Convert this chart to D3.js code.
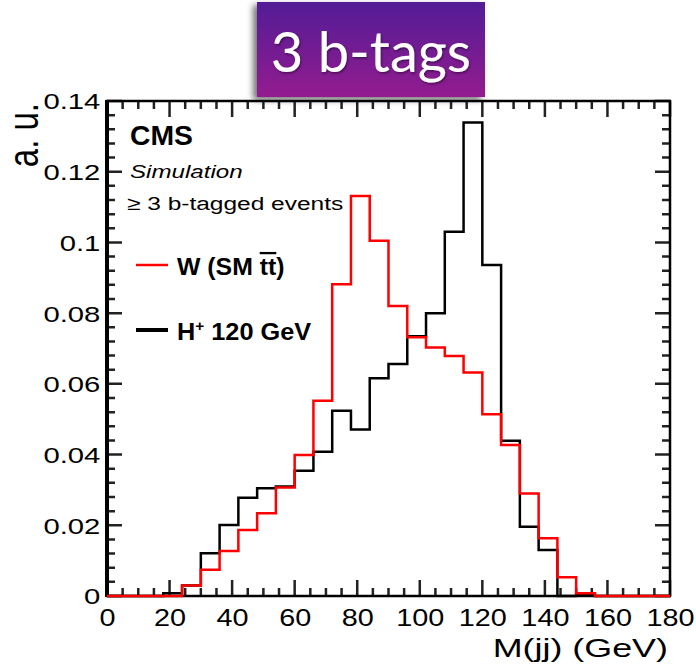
<!DOCTYPE html>
<html>
<head>
<meta charset="utf-8">
<script src="https://cdn.jsdelivr.net/npm/d3@7"></script>
<style>
  body { margin: 0; background: #fff; }
  svg { display: block; }
  .root-text { font-family: "Liberation Sans", Arial, Helvetica, sans-serif; fill: #000; }
</style>
</head>
<body>
<svg id="chart" width="696" height="672"></svg>
<script>
// low edges of the 6 GeV mass bins
const binLow = [0, 6, 12, 18, 24, 30, 36, 42, 48, 54, 60, 66, 72, 78, 84,
  90, 96, 102, 108, 114, 120, 126, 132, 138, 144, 150, 156, 162, 168, 174];

// W from SM ttbar (red)
const wSM = [0, 0, 0, 0, 0.0030, 0.0074, 0.0127, 0.0187, 0.0234, 0.0307,
  0.0399, 0.0552, 0.0882, 0.1131, 0.1005, 0.0820, 0.0732, 0.0703, 0.0679, 0.0632,
  0.0514, 0.0427, 0.0290, 0.0163, 0.0053, 0.0008, 0, 0, 0, 0];

// H+ 120 GeV (black)
const hPlus = [0, 0, 0, 0.0008, 0.0030, 0.0121, 0.0201, 0.0278, 0.0305, 0.0310,
  0.0354, 0.0408, 0.0524, 0.0471, 0.0616, 0.0656, 0.0735, 0.0800, 0.1030, 0.1339,
  0.0936, 0.0439, 0.0196, 0.0130, 0, 0.0005, 0, 0, 0, 0];

const xTickValues = [0, 20, 40, 60, 80, 100, 120, 140, 160, 180];
const yTickValues = [0, 0.02, 0.04, 0.06, 0.08, 0.1, 0.12, 0.14];
const yTickLabels = ["0", "0.02", "0.04", "0.06", "0.08", "0.1", "0.12", "0.14"];

const plot = { left: 107, right: 670, top: 101, bottom: 596 };

const svg = d3.select("#chart");
const defs = svg.append("defs");

const x = d3.scaleLinear().domain([0, 180]).range([plot.left, plot.right]);
const y = d3.scaleLinear().domain([0, 0.14]).range([plot.bottom, plot.top]);

// ---- title box ----
const grad = defs.append("linearGradient")
  .attr("id", "titleFill").attr("x1", 0).attr("y1", 0).attr("x2", 0).attr("y2", 1);
grad.append("stop").attr("offset", "0%").attr("stop-color", "#531a96");
grad.append("stop").attr("offset", "100%").attr("stop-color", "#931e8f");

defs.append("filter").attr("id", "boxShadow")
  .attr("x", "-20%").attr("y", "-20%").attr("width", "140%").attr("height", "140%")
  .append("feDropShadow")
  .attr("dx", -4).attr("dy", 3).attr("stdDeviation", 3)
  .attr("flood-color", "#000").attr("flood-opacity", 0.55);

defs.append("filter").attr("id", "textShadow")
  .append("feDropShadow")
  .attr("dx", 1).attr("dy", 1.5).attr("stdDeviation", 1.2)
  .attr("flood-color", "#000").attr("flood-opacity", 0.45);

svg.append("rect")
  .attr("x", 257).attr("y", 2).attr("width", 228).attr("height", 95)
  .attr("fill", "url(#titleFill)")
  .attr("filter", "url(#boxShadow)");

svg.append("text")
  .attr("x", 371).attr("y", 72)
  .attr("text-anchor", "middle")
  .attr("font-family", "Lato, 'Open Sans', sans-serif")
  .attr("font-size", 56)
  .attr("fill", "#fff")
  .attr("filter", "url(#textShadow)")
  .text("3 b-tags");

// ---- tick labels through d3 axes ----
function clearAxis(g) {
  g.select(".domain").remove();
  g.selectAll("line").remove();
  g.attr("font-family", null).attr("font-size", null);
}

const gx = svg.append("g")
  .attr("transform", `translate(0,${plot.bottom})`)
  .call(d3.axisBottom(x).tickValues(xTickValues).tickSize(0).tickPadding(13)
    .tickFormat(d3.format("d")))
  .call(clearAxis);
gx.selectAll("text")
  .attr("class", "root-text")
  .attr("font-size", 24)
  .attr("transform", "scale(1.2,1)");

const gy = svg.append("g")
  .attr("transform", `translate(${plot.left},0)`)
  .call(d3.axisLeft(y).tickValues(yTickValues).tickSize(0).tickPadding(5)
    .tickFormat((d, i) => yTickLabels[i]))
  .call(clearAxis);
gy.selectAll("text")
  .attr("class", "root-text")
  .attr("font-size", 22)
  .attr("dy", "0.36em")
  .attr("transform", "scale(1.33,1)");

// ---- frame with inward ticks on all four sides ----
const xMinor = d3.range(0, 181, 5).filter(v => v % 20 !== 0);
const yMinor = d3.range(0, 36).filter(i => i % 5 !== 0).map(i => i * 0.004);

const tickPath = d3.path();
function addXTicks(values, len) {
  values.forEach(v => {
    tickPath.moveTo(x(v), plot.bottom); tickPath.lineTo(x(v), plot.bottom - len);
    tickPath.moveTo(x(v), plot.top); tickPath.lineTo(x(v), plot.top + len);
  });
}
function addYTicks(values, len) {
  values.forEach(v => {
    tickPath.moveTo(plot.left, y(v)); tickPath.lineTo(plot.left + len, y(v));
    tickPath.moveTo(plot.right, y(v)); tickPath.lineTo(plot.right - len, y(v));
  });
}
addXTicks(xTickValues, 16);
addXTicks(xMinor, 8);
addYTicks(yTickValues, 15);
addYTicks(yMinor, 8);

svg.append("path")
  .attr("d", tickPath.toString())
  .attr("fill", "none").attr("stroke", "#222").attr("stroke-width", 2.5);

svg.append("rect")
  .attr("x", plot.left).attr("y", plot.top)
  .attr("width", plot.right - plot.left).attr("height", plot.bottom - plot.top)
  .attr("fill", "none").attr("stroke", "#000").attr("stroke-width", 2.5);
svg.append("line")
  .attr("x1", plot.left).attr("x2", plot.left)
  .attr("y1", plot.top - 1).attr("y2", plot.bottom + 1)
  .attr("stroke", "#000").attr("stroke-width", 4);

// ---- histograms (red on top, it runs over the baseline at both ends) ----
const stepLine = d3.line()
  .x(d => x(d[0]))
  .y(d => y(d[1]))
  .curve(d3.curveStepAfter);

function histPoints(values) {
  const pts = values.map((v, i) => [binLow[i], v]);
  pts.push([180, values[values.length - 1]]);
  return pts;
}

svg.append("path")
  .datum(histPoints(hPlus))
  .attr("d", stepLine)
  .attr("fill", "none").attr("stroke", "#000").attr("stroke-width", 2.5);

svg.append("path")
  .datum(histPoints(wSM))
  .attr("d", stepLine)
  .attr("fill", "none").attr("stroke", "#ff0000").attr("stroke-width", 2.5);

// ---- labels ----
function label(str, px, py, size, sx, weight, style) {
  return svg.append("text")
    .attr("class", "root-text")
    .attr("transform", `translate(${px},${py}) scale(${sx},1)`)
    .attr("font-size", size)
    .attr("font-weight", weight || "normal")
    .attr("font-style", style || "normal")
    .text(str);
}

label("M(jj) (GeV)", 668, 657, 26, 1.38).attr("text-anchor", "end");

svg.append("text")
  .attr("class", "root-text")
  .attr("transform", "translate(38,103) scale(1.3,1) rotate(-90)")
  .attr("text-anchor", "end")
  .attr("font-size", 33)
  .text("a. u.");

label("CMS", 130, 145, 27, 1.05, "bold");
label("Simulation", 130, 178, 19, 1.27, "normal", "italic");
label("\u2265 3 b-tagged events", 127, 210, 19, 1.29);

// legend
svg.append("line")
  .attr("x1", 136).attr("x2", 168).attr("y1", 265).attr("y2", 265)
  .attr("stroke", "#ff0000").attr("stroke-width", 2.5);
svg.append("line")
  .attr("x1", 136).attr("x2", 168).attr("y1", 330).attr("y2", 330)
  .attr("stroke", "#000").attr("stroke-width", 4);

const wLabel = label("W (SM ", 177, 275, 23, 1.08, "bold");
wLabel.append("tspan").style("text-decoration", "overline").text("tt");
wLabel.append("tspan").text(")");

const hLabel = label("H", 177, 340, 23, 1.1, "bold");
hLabel.append("tspan").attr("dy", -9).attr("font-size", 14).text("+");
hLabel.append("tspan").attr("dy", 9).text(" 120 GeV");
</script>
</body>
</html>
